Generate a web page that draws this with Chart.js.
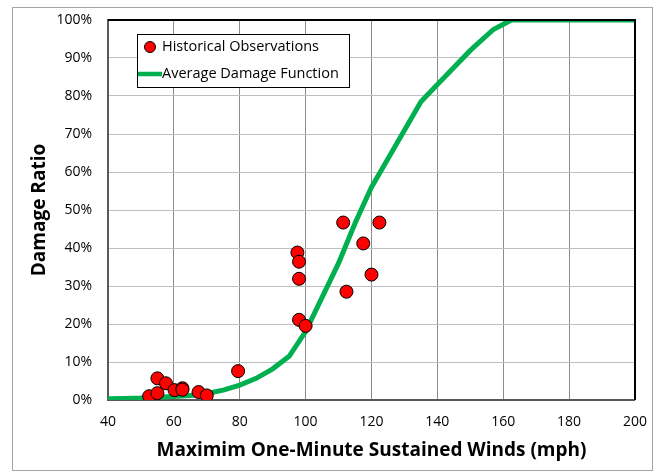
<!DOCTYPE html>
<html>
<head>
<meta charset="utf-8">
<script src="https://cdn.jsdelivr.net/npm/chart.js@4.4.0/dist/chart.umd.min.js"></script>
<style>
body { margin: 0; background: #fff; }
#wrap { width: 661px; height: 475px; }
</style>
</head>
<body>
<div id="wrap"><canvas id="myChart" width="661" height="475"></canvas></div>
<script>
// historical observations (wind mph, damage %)
var obsWinds  = [52.5, 55, 55, 57.6, 60.2, 62.6, 62.6, 67.5, 70, 79.5, 97.5, 98, 98, 98, 100, 111.4, 112.4, 117.5, 120, 122.4];
var obsDamage = [1.0, 1.8, 5.7, 4.4, 2.6, 3.1, 2.7, 2.1, 1.2, 7.6, 38.8, 36.4, 31.9, 21.1, 19.5, 46.7, 28.5, 41.2, 33.0, 46.7];

// average damage function
var curveWinds  = [40, 45, 50, 55, 60, 65, 70, 75, 80, 85, 90, 95, 100, 105, 110, 115, 120, 125, 130, 135, 140, 145, 150, 157, 162.5, 170, 180, 190, 200];
var curveDamage = [0.3, 0.4, 0.5, 0.7, 0.9, 1.2, 1.7, 2.6, 3.9, 5.7, 8.2, 11.5, 18, 27, 36, 46.5, 56, 63.5, 71, 78.5, 83, 87.5, 92, 97.5, 100, 100, 100, 100, 100];

var seriesNames = ["Historical Observations", "Average Damage Function"];

var FONT = "'Open Sans', sans-serif";

function pairs(xs, ys) {
    return xs.map(function(x, i) { return { x: x, y: ys[i] }; });
}

// frame, outer border and legend box drawn like the excel chart
var framePlugin = {
    id: 'frame',
    beforeDraw: function(chart) {
        var c = chart.ctx;
        c.save();
        c.fillStyle = '#fff';
        c.fillRect(0, 0, chart.width, chart.height);
        c.strokeStyle = '#a6a6a6';
        c.lineWidth = 1;
        c.strokeRect(12.5, 7.5, 640, 463);
        c.restore();
    },
    afterDraw: function(chart) {
        var c = chart.ctx, a = chart.chartArea;
        c.save();
        c.strokeStyle = '#000';
        c.lineWidth = 2;
        c.beginPath();
        c.moveTo(a.left, a.top);
        c.lineTo(a.right, a.top);
        c.lineTo(a.right, a.bottom);
        c.stroke();

        // legend
        var lx = a.left + 29, ly = a.top + 14, lw = 212, lh = 53;
        c.fillStyle = '#fff';
        c.fillRect(lx, ly, lw, lh);
        c.strokeStyle = '#000';
        c.lineWidth = 1;
        c.strokeRect(lx + 0.5, ly + 0.5, lw, lh);

        var ds = chart.data.datasets;
        c.font = '14.5px ' + FONT;
        c.textBaseline = 'middle';

        c.beginPath();
        c.arc(lx + 13, ly + 13, 5.5, 0, Math.PI * 2);
        c.fillStyle = ds[0].backgroundColor;
        c.fill();
        c.strokeStyle = '#000';
        c.lineWidth = 1;
        c.stroke();
        c.fillStyle = '#000';
        c.fillText(ds[0].label, lx + 25, ly + 13);

        c.beginPath();
        c.moveTo(lx + 1, ly + 40);
        c.lineTo(lx + 25, ly + 40);
        c.strokeStyle = ds[1].borderColor;
        c.lineWidth = 4.5;
        c.stroke();
        c.fillStyle = '#000';
        c.fillText(ds[1].label, lx + 25, ly + 40);
        c.restore();
    }
};

var ctx = document.getElementById("myChart");

var myChart = new Chart(ctx, {
    type: 'scatter',
    data: {
        datasets: [
            {
                label: seriesNames[0],
                data: pairs(obsWinds, obsDamage),
                backgroundColor: '#ff0000',
                borderColor: '#000',
                borderWidth: 1,
                pointRadius: 6.5,
                pointHoverRadius: 6.5
            },
            {
                label: seriesNames[1],
                data: pairs(curveWinds, curveDamage),
                showLine: true,
                borderColor: '#00b050',
                backgroundColor: '#00b050',
                borderWidth: 5,
                pointRadius: 0,
                pointHoverRadius: 0,
                tension: 0
            }
        ]
    },
    options: {
        responsive: false,
        animation: false,
        layout: { padding: { left: 13, right: 25, top: 20, bottom: 6 } },
        plugins: {
            legend: { display: false },
            tooltip: { enabled: false }
        },
        scales: {
            x: {
                type: 'linear',
                min: 40,
                max: 200,
                afterFit: function(s) { s.height = 69; },
                ticks: { stepSize: 20, padding: 14, color: '#000', font: { family: FONT, size: 14 } },
                grid: { color: '#8c8c8c', lineWidth: 1, drawTicks: false },
                border: { color: '#595959', width: 2 },
                title: {
                    display: true,
                    text: 'Maximim One-Minute Sustained Winds (mph)',
                    color: '#000',
                    font: { family: FONT, size: 19, weight: 'bold' },
                    padding: { top: 0, bottom: 7 }
                }
            },
            y: {
                min: 0,
                max: 100,
                afterFit: function(s) {
                    s.width = 95;
                    // tick padding shouldn't push the plot down
                    s.paddingTop = 8;
                    s.paddingBottom = 8;
                },
                ticks: {
                    stepSize: 10,
                    padding: 16,
                    color: '#000',
                    font: { family: FONT, size: 14 },
                    callback: function(v) { return v + '%'; }
                },
                grid: { color: '#bfbfbf', lineWidth: 1, drawTicks: false },
                border: { color: '#595959', width: 2 },
                title: {
                    display: true,
                    text: 'Damage Ratio',
                    color: '#000',
                    font: { family: FONT, size: 19, weight: 'bold' },
                    padding: { top: 15, bottom: 0 }
                }
            }
        }
    },
    plugins: [framePlugin]
});
</script>
</body>
</html>
